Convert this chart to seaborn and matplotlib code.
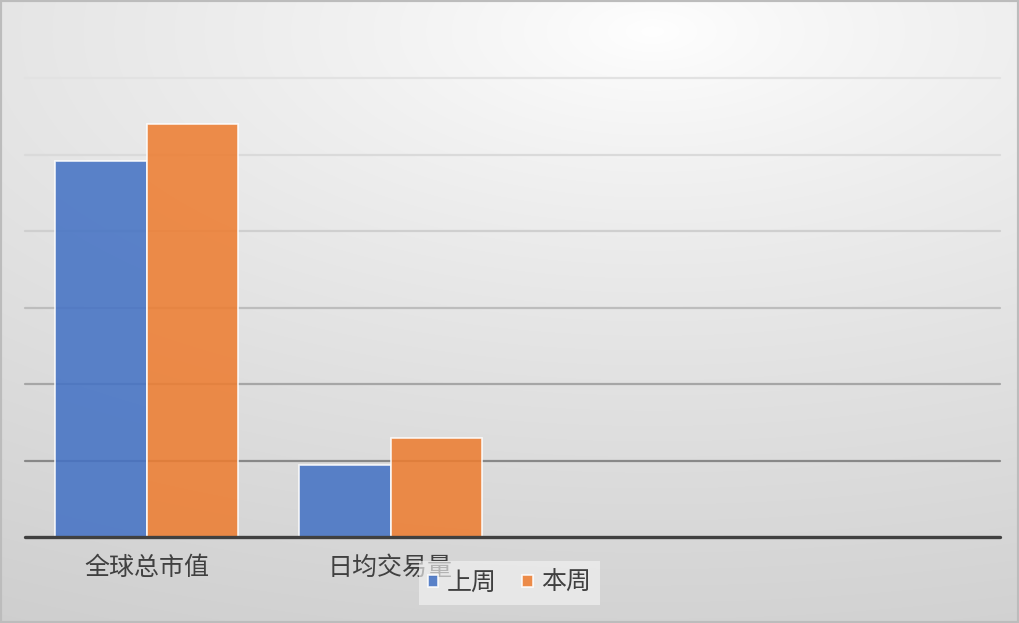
import numpy as np
import pandas as pd
import matplotlib
matplotlib.use("Agg")
import matplotlib.pyplot as plt
import matplotlib.patches as mpatches
import seaborn as sns

# datos
categorias = ["全球总市值", "日均交易量"]
series = ["上周", "本周"]
valores_上周 = [4.92, 0.94]
valores_本周 = [5.40, 1.29]

df = pd.DataFrame({
    "指标": categorias * 2,
    "周期": [series[0]] * len(categorias) + [series[1]] * len(categorias),
    "值": valores_上周 + valores_本周,
})

sns.set_theme(style="white")
plt.rcParams["font.family"] = ["Noto Sans CJK SC", "DejaVu Sans"]

W, H = 1019, 623
fig = plt.figure(figsize=(W / 100, H / 100), dpi=100)

# fondo con degradado radial (estilo Excel)
bg = fig.add_axes([0, 0, 1, 1], zorder=-10)
yy, xx = np.mgrid[0:H, 0:W]
r = np.sqrt(((xx - 0.64 * W) / W) ** 2 + ((yy - 0.05 * H) / (0.75 * H)) ** 2)
r = np.clip(r / r.max(), 0, 1)
v = 1.0 - 0.19 * r ** 0.8
bg.imshow(np.dstack([v, v, v]), aspect="auto", extent=[0, 1, 0, 1], origin="upper")
bg.set_axis_off()

ax = fig.add_axes([25 / W, (H - 537) / H, 975 / W, (537 - 78) / H])
ax.patch.set_alpha(0)

# líneas de cuadrícula con tonos degradados
tonos = ["#404040", "#888888", "#a6a6a6", "#bdbdbd", "#cfcfcf", "#dadada", "#e2e2e2"]
ax.set_ylim(0, 6)
for i, t in enumerate(np.arange(0, 7, 1)):
    ax.axhline(t, color=tonos[i], lw=2.4 if i == 0 else 1.6,
               zorder=4 if i == 0 else 0, clip_on=False)

sns.barplot(data=df, x="指标", y="值", hue="周期", order=categorias,
            palette=["#4472C4", "#ED7D31"], saturation=1, alpha=0.87, width=0.75,
            edgecolor=(1, 1, 1, 0.7), linewidth=1.2, ax=ax, zorder=2)

ax.set_xlim(-0.5, 3.5)
ax.set_xlabel("")
ax.set_ylabel("")
ax.set_yticks([])
ax.tick_params(axis="x", length=0, pad=13, labelsize=18, labelcolor="#404040")
for s in ax.spines.values():
    s.set_visible(False)

handles, labels = ax.get_legend_handles_labels()
leg = ax.legend(handles, labels, loc="center", bbox_to_anchor=(0.497, -0.100),
                ncol=2, fontsize=18, frameon=True, fancybox=False,
                facecolor="#f2f2f2", edgecolor="none", framealpha=0.65,
                handlelength=0.42, handleheight=0.42, handletextpad=0.35,
                columnspacing=1.0, borderpad=0.35, labelcolor="#404040")
leg.set_zorder(10)

# marco exterior
fig.patches.append(mpatches.Rectangle((0, 0), 1, 1, transform=fig.transFigure,
                                      fill=False, edgecolor="#bcbcbc", lw=3))

fig.savefig("out.png", dpi=100)
